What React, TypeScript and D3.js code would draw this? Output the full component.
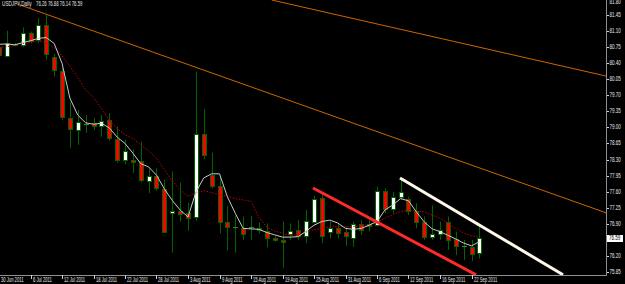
import React from "react";
import * as d3 from "d3";

// ---- data ----
const barDates = [
  "30 Jun","1 Jul","4 Jul","5 Jul","6 Jul","7 Jul","8 Jul","11 Jul","12 Jul","13 Jul",
  "14 Jul","15 Jul","18 Jul","19 Jul","20 Jul","21 Jul","22 Jul","25 Jul","26 Jul","27 Jul",
  "28 Jul","29 Jul","1 Aug","2 Aug","3 Aug","4 Aug","5 Aug","8 Aug","9 Aug","10 Aug",
  "11 Aug","12 Aug","15 Aug","16 Aug","17 Aug","18 Aug","19 Aug","22 Aug","23 Aug","24 Aug",
  "25 Aug","26 Aug","29 Aug","30 Aug","31 Aug","1 Sep","2 Sep","5 Sep","6 Sep","7 Sep",
  "8 Sep","9 Sep","12 Sep","13 Sep","14 Sep","15 Sep","16 Sep","19 Sep","20 Sep","21 Sep",
  "22 Sep","23 Sep"
];
const openVals = [
  80.75,80.56,80.81,80.80,81.05,80.91,81.23,80.53,80.24,79.20,
  78.94,79.07,79.09,79.03,79.16,78.74,78.28,78.30,78.26,77.84,
  77.94,77.65,77.14,77.17,77.13,77.04,78.86,77.96,77.72,76.94,
  76.83,76.80,76.82,76.80,76.75,76.58,76.55,76.68,76.77,76.64,
  76.95,77.46,76.73,76.81,76.73,76.59,76.90,76.90,76.88,77.62,
  77.22,77.48,77.43,77.19,76.94,76.62,76.68,76.93,76.56,76.41,
  76.40,76.26
];
const highVals = [
  80.85,81.11,80.84,81.18,81.09,81.38,81.46,80.60,80.29,79.56,
  79.38,79.27,79.21,79.27,79.31,79.02,78.73,78.52,78.69,78.11,
  78.11,77.86,78.04,77.80,77.36,80.22,79.40,78.45,77.91,77.29,
  77.08,77.06,77.07,76.93,76.91,76.64,76.95,76.91,76.99,77.20,
  77.51,77.57,76.95,76.91,76.84,76.95,76.98,76.98,77.71,77.67,
  77.60,77.86,77.49,77.35,77.06,77.30,76.95,77.06,76.73,76.55,
  76.55,76.88
];
const lowVals = [
  80.50,80.53,80.77,80.75,80.83,80.84,80.47,80.11,79.16,78.55,
  78.62,78.88,78.94,78.80,78.71,78.23,78.20,78.01,77.80,77.57,
  77.62,76.71,76.27,76.95,76.75,76.96,78.31,77.67,76.69,76.32,
  76.27,76.55,76.55,76.69,76.39,76.51,75.94,76.55,76.55,76.48,
  76.91,76.48,76.58,76.58,76.42,76.40,76.66,76.73,76.84,77.13,
  77.13,77.42,77.09,76.80,76.55,76.55,76.55,76.33,76.22,76.11,
  76.09,76.14
];
const closeVals = [
  80.58,80.83,80.79,81.05,80.89,81.23,80.60,80.25,79.22,78.97,
  79.11,79.07,79.03,79.15,78.76,78.28,78.49,78.25,77.86,77.94,
  77.67,76.73,77.17,77.11,77.03,78.86,78.40,77.72,76.93,76.84,
  76.83,76.68,76.82,76.76,76.58,76.55,76.51,76.75,76.64,76.96,
  77.43,76.64,76.80,76.71,76.64,76.90,76.77,76.86,77.62,77.22,
  77.48,77.59,77.19,76.93,76.61,76.68,76.77,76.55,76.41,76.41,
  76.24,76.59
];
// fast moving average (light line), read point by point
const maFast = [
  80.81,80.82,80.80,80.85,80.89,80.94,80.96,80.83,80.40,79.64,
  79.27,79.10,79.07,79.09,78.99,78.79,78.65,78.44,78.21,78.14,
  77.96,77.66,77.41,77.20,77.05,77.59,77.90,77.99,77.99,77.49,
  77.13,76.80,76.79,76.78,76.71,76.66,76.61,76.61,76.62,76.74,
  76.87,76.95,76.98,76.92,76.80,76.78,76.80,76.87,76.95,77.20,
  77.31,77.45,77.40,77.16,76.94,76.79,76.73,76.65,76.57,76.48,
  76.42,76.51
];
// slow moving average (dotted red line), read point by point
const maSlow = [
  80.75,80.76,80.79,80.83,80.86,80.89,80.84,80.74,80.56,80.33,
  80.09,79.82,79.65,79.42,79.16,78.98,78.84,78.76,78.62,78.49,
  78.33,78.08,77.84,77.64,77.50,77.57,77.62,77.58,77.54,77.50,
  77.45,77.42,77.39,77.04,76.83,76.74,76.70,76.65,76.66,76.72,
  76.77,76.80,76.83,76.84,76.84,76.84,76.86,76.88,76.94,77.02,
  77.10,77.17,77.20,77.18,77.16,77.09,77.02,76.92,76.80,76.70,
  76.64,76.61
];
const priceTicks = [81.80,81.45,81.10,80.75,80.40,80.05,79.70,79.35,79.00,78.65,78.30,77.95,77.60,77.25,76.90,76.55,76.20,75.85];
const timeTickBars = [0,4,8,12,16,20,24,28,32,36,40,44,48,52,56,60];
const timeTickLabels = [
  "30 Jun 2011","6 Jul 2011","12 Jul 2011","18 Jul 2011","22 Jul 2011","28 Jul 2011",
  "3 Aug 2011","9 Aug 2011","15 Aug 2011","19 Aug 2011","25 Aug 2011","31 Aug 2011",
  "6 Sep 2011","12 Sep 2011","16 Sep 2011","22 Sep 2011"
];
const symbolTitle = "USDJPY,Daily";
const lastBarText = "76.26 76.88 76.14 76.59";
const lastPrice = 76.59;
// trend lines: [bar, price] anchors
const trendUpper = [[34.63, 81.777], [77.08, 80.12]];
const trendLower = [[2.16, 81.70], [77.08, 77.14]];
const channelRed = [[39.87, 77.68], [60.57, 75.79]];
const channelWhite = [[50.92, 77.90], [71.62, 75.79]];

const W = 625;
const H = 284;
const PR = 606; // plot right
const PB = 275; // plot bottom
const FONT = "'Liberation Sans', Arial, sans-serif";
const WICK = "#006400";

export default function App() {
  const x = d3.scaleLinear().domain([0, 61]).range([-1, -1 + 61 * 7.875]);
  const y = d3.scaleLinear().domain([75.85, 81.45]).range([272, 15]);

  const lineGen = d3
    .line<number>()
    .x((_, i) => x(i))
    .y((d) => y(d));

  const candles = barDates.map((d, i) => {
    const o = openVals[i], h = highVals[i], l = lowVals[i], c = closeVals[i];
    const cx = Math.round(x(i));
    const yTop = Math.round(y(Math.max(o, c)));
    const yBot = Math.round(y(Math.min(o, c)));
    const bh = yBot - yTop;
    const up = c > o;
    const doji = o === c;
    return (
      <g key={d}>
        <line x1={cx + 0.5} x2={cx + 0.5} y1={y(h)} y2={y(l)} stroke={WICK} strokeWidth={1} />
        {doji || bh < 1 ? (
          <line x1={cx - 2} x2={cx + 3} y1={yTop + 0.5} y2={yTop + 0.5} stroke={up || doji ? "#2e8b2e" : "#ff0000"} strokeWidth={1} />
        ) : (
          <rect
            x={cx - 2 + 0.5}
            y={yTop + 0.5}
            width={4}
            height={Math.max(bh, 1)}
            fill={up ? "#ffffff" : "#ff0000"}
            stroke={WICK}
            strokeWidth={1}
          />
        )}
      </g>
    );
  });

  const seg = (pts: number[][]) => ({
    x1: x(pts[0][0]),
    y1: y(pts[0][1]),
    x2: x(pts[1][0]),
    y2: y(pts[1][1]),
  });

  const smallText = (tx: number, ty: number, s: string, fill: string, sx: number, key?: string) => (
    <text
      key={key}
      transform={`translate(${tx},${ty}) scale(${sx},1)`}
      fontFamily={FONT}
      fontSize={6.5}
      fill={fill}
      dominantBaseline="middle"
    >
      {s}
    </text>
  );

  const lastY = Math.round(y(lastPrice));

  return (
    <svg
      width={W}
      height={H}
      style={{ position: "absolute", left: 0, top: 0, display: "block" }}
    >
      <defs>
        <clipPath id="plot">
          <rect x={0} y={0} width={PR} height={PB} />
        </clipPath>
      </defs>
      <rect x={0} y={0} width={W} height={H} fill="#000000" />
      <g clipPath="url(#plot)">
        {candles}
        <path d={lineGen(maSlow) || ""} fill="none" stroke="#c00000" strokeWidth={1} strokeDasharray="1.5,1.5" />
        <path d={lineGen(maFast) || ""} fill="none" stroke="#c8c8c8" strokeWidth={1} />
        <line {...seg(trendUpper)} stroke="#cc6600" strokeWidth={1} />
        <line {...seg(trendLower)} stroke="#cc6600" strokeWidth={1} />
        <line {...seg(channelRed)} stroke="#ff2a2a" strokeWidth={3} />
        <line {...seg(channelWhite)} stroke="#fff8e8" strokeWidth={3} />
      </g>
      {/* title */}
      {smallText(2, 4, symbolTitle, "#e0e0e0", 0.72)}
      {smallText(36, 4, lastBarText, "#e0e0e0", 0.66)}
      {/* axes */}
      <line x1={PR + 0.5} x2={PR + 0.5} y1={0} y2={PB + 0.5} stroke="#909090" strokeWidth={1} />
      <line x1={0} x2={PR + 0.5} y1={PB + 0.5} y2={PB + 0.5} stroke="#909090" strokeWidth={1} />
      {priceTicks.map((p, i) => {
        const ty = Math.round(y(p));
        const hidden = Math.abs(ty - lastY) < 6;
        return (
          <g key={"p" + i}>
            <line x1={PR + 1} x2={PR + 3} y1={ty + 0.5} y2={ty + 0.5} stroke="#d0d0d0" strokeWidth={1} />
            {!hidden && smallText(PR + 3.5, Math.max(ty + 0.5, 2.5), p.toFixed(2), "#e8e8e8", 0.7)}
          </g>
        );
      })}
      <rect x={PR + 1} y={lastY - 3} width={16} height={7} fill="#ffffff" />
      {smallText(PR + 3, lastY + 0.5, lastPrice.toFixed(2), "#000000", 0.7)}
      {timeTickBars.map((b, i) => (
        <g key={"t" + i}>
          <line x1={Math.round(x(b)) + 0.5} x2={Math.round(x(b)) + 0.5} y1={PB} y2={PB + 4} stroke="#d0d0d0" strokeWidth={1} />
          {smallText(Math.max(0, Math.round(x(b)) + 2), PB + 4.8, timeTickLabels[i], "#e8e8e8", 0.64)}
        </g>
      ))}
    </svg>
  );
}
